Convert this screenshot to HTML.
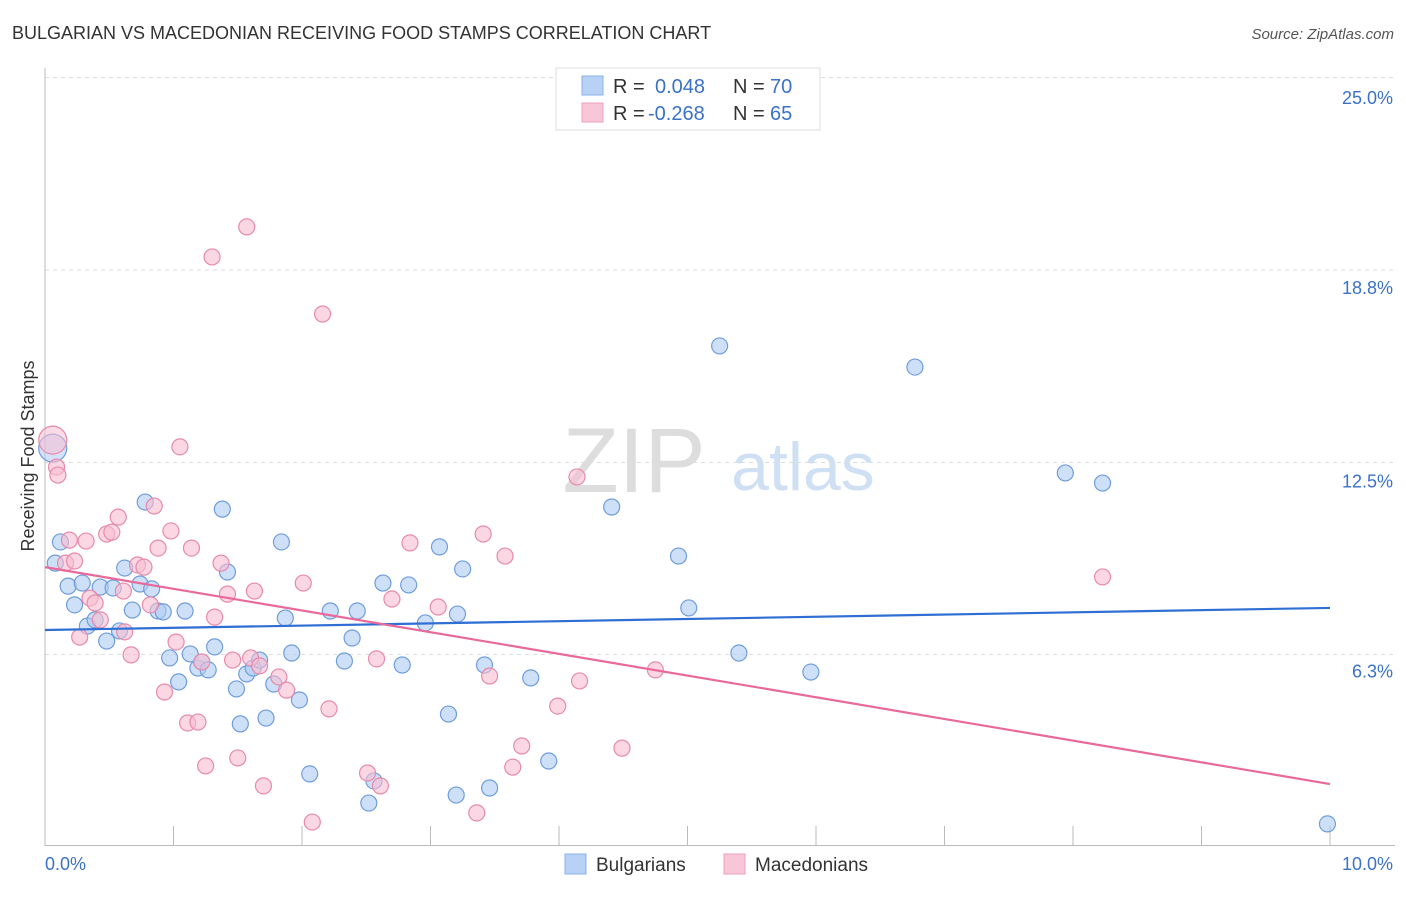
<!DOCTYPE html>
<html><head><meta charset="utf-8">
<style>
body{margin:0;background:#fff;font-family:"Liberation Sans",sans-serif;}
svg text{font-family:"Liberation Sans",sans-serif;}
</style></head>
<body>
<svg id="chart" width="1406" height="892" xmlns="http://www.w3.org/2000/svg">
<text x="12" y="39" font-size="18" fill="#333">BULGARIAN VS MACEDONIAN RECEIVING FOOD STAMPS CORRELATION CHART</text>
<text x="1394" y="39" font-size="15" fill="#555" text-anchor="end" font-style="italic">Source: ZipAtlas.com</text>
<text x="634" y="492" font-size="92" fill="#ddd" text-anchor="middle" font-family="Liberation Serif, serif">ZIP</text>
<text x="803" y="490" font-size="68" fill="#cfe0f4" text-anchor="middle">atlas</text>
<g id="grid"></g>
<g id="axes"></g>
<g id="points"></g>
<g id="trends"></g>
<text transform="translate(34,456) rotate(-90)" font-size="18" fill="#333" text-anchor="middle">Receiving Food Stamps</text>
<g>
<rect x="556" y="68" width="264" height="62" fill="#fff" stroke="#ddd"/>
<rect x="582" y="76" width="21" height="19" fill="#b8d2f5" stroke="#8ab2e8"/>
<rect x="582" y="103" width="21" height="19" fill="#f8c6d6" stroke="#eca0bb"/>
<text x="613" y="93" font-size="20" fill="#333">R = </text><text x="655" y="93" font-size="20" fill="#3a72c8">0.048</text>
<text x="733" y="93" font-size="20" fill="#333">N = </text><text x="770" y="93" font-size="20" fill="#3a72c8">70</text>
<text x="613" y="120" font-size="20" fill="#333">R = </text><text x="648" y="120" font-size="20" fill="#3a72c8">-0.268</text>
<text x="733" y="120" font-size="20" fill="#333">N = </text><text x="770" y="120" font-size="20" fill="#3a72c8">65</text>
</g>
<g>
<rect x="565" y="854" width="21" height="20" fill="#b8d2f5" stroke="#8ab2e8"/>
<text x="596" y="871" font-size="19" fill="#333">Bulgarians</text>
<rect x="724" y="854" width="21" height="20" fill="#f8c6d6" stroke="#eca0bb"/>
<text x="755" y="871" font-size="19" fill="#333">Macedonians</text>
</g>
</svg>
<script>
const blueX=[0.06,0.12,0.08,0.18,0.23,0.29,0.33,0.39,0.43,0.48,0.53,0.58,0.62,0.68,0.74,0.78,0.83,0.88,0.92,0.97,1.04,1.09,1.13,1.19,1.22,1.27,1.32,1.38,1.42,1.49,1.52,1.57,1.62,1.67,1.72,1.78,1.84,1.87,1.92,1.98,2.06,2.22,2.33,2.39,2.43,2.52,2.56,2.63,2.78,2.83,2.96,3.07,3.14,3.20,3.21,3.25,3.42,3.46,3.78,3.92,4.41,4.93,5.01,5.25,5.40,5.96,6.77,7.94,8.23,9.98];
const blueY=[12.97,9.91,9.22,8.47,7.86,8.57,7.17,7.37,8.44,6.68,8.41,7.01,9.06,7.69,8.54,11.21,8.38,7.66,7.63,6.13,5.35,7.66,6.26,5.80,6.00,5.74,6.49,10.98,8.93,5.12,3.98,5.61,5.80,6.06,4.17,5.28,9.91,7.43,6.29,4.76,2.35,7.66,6.03,6.78,7.66,1.40,2.12,8.57,5.90,8.51,7.27,9.75,4.30,1.66,7.56,9.03,5.90,1.89,5.48,2.77,11.05,9.45,7.76,16.30,6.29,5.67,15.61,12.16,11.83,0.72];
const pinkX=[0.06,0.09,0.10,0.16,0.19,0.23,0.27,0.32,0.35,0.39,0.43,0.48,0.52,0.57,0.62,0.61,0.67,0.72,0.77,0.82,0.85,0.88,0.93,0.98,1.02,1.05,1.11,1.14,1.19,1.22,1.25,1.30,1.32,1.37,1.42,1.46,1.50,1.57,1.60,1.63,1.67,1.70,1.82,1.88,2.01,2.08,2.16,2.21,2.51,2.58,2.61,2.70,2.84,3.06,3.36,3.41,3.46,3.58,3.64,3.71,3.99,4.14,4.16,4.49,4.75,8.23];
const pinkY=[13.23,12.35,12.09,9.22,9.97,9.29,6.81,9.94,8.08,7.92,7.37,10.17,10.23,10.72,6.98,8.31,6.23,9.16,9.09,7.86,11.08,9.71,5.02,10.27,6.65,13.01,4.01,9.71,4.04,6.00,2.61,19.20,7.46,9.22,8.21,6.06,2.87,20.18,6.13,8.31,5.87,1.96,5.51,5.08,8.57,0.78,17.34,4.47,2.38,6.10,1.96,8.05,9.88,7.79,1.08,10.17,5.54,9.45,2.57,3.26,4.56,12.03,5.38,3.19,5.74,8.77];
const blueTrend=[7.04,7.76];
const pinkTrend=[9.09,2.02];
const yTicks=[25.0,18.8,12.5,6.3];
const yTickLabels=["25.0%","18.8%","12.5%","6.3%"];
const xTickVals=[1,2,3,4,5,6,7,8,9,10];
const NS="http://www.w3.org/2000/svg";
const X0=45,X1=1330,Y0=846,PPY=30.68;
function sx(v){return X0+(X1-X0)*v/10;}
function sy(v){return Y0-v*PPY;}
function mk(tag,attrs,parent){const e=document.createElementNS(NS,tag);for(const k in attrs)e.setAttribute(k,attrs[k]);document.getElementById(parent).appendChild(e);return e;}
yTicks.forEach((t,i)=>{
 const l=mk('line',{x1:45,x2:1395,y1:sy(t===25?25.05:t===18.8?18.77:t===6.3?6.24:12.5),y2:sy(t===25?25.05:t===18.8?18.77:t===6.3?6.24:12.5),stroke:'#ddd','stroke-dasharray':'4,4'},'grid');
 
 
 const tx=mk('text',{x:1393,y:sy(t)+25,'font-size':18,fill:'#3a72c8','text-anchor':'end'},'grid');
 tx.textContent=yTickLabels[i];
 
 
});
let a=mk('line',{x1:45,x2:45,y1:68,y2:846,stroke:'#bbb'},'axes');


a=mk('line',{x1:45,x2:1395,y1:845.5,y2:845.5,stroke:'#bbb'},'axes');


xTickVals.forEach(v=>{
 const t=mk('line',{x1:sx(v),x2:sx(v),y1:826,y2:846,stroke:'#bbb'},'axes');
 
 
});
let lb=mk('text',{x:45,y:870,'font-size':18,fill:'#3a72c8'},'axes');lb.textContent='0.0%';


lb=mk('text',{x:1393,y:870,'font-size':18,fill:'#3a72c8','text-anchor':'end'},'axes');lb.textContent='10.0%';


function pts(xs,ys,fill,stroke,name){
 xs.forEach((x,i)=>{
  const big=(i===0);
  const c=mk('circle',{cx:sx(x),cy:sy(ys[i]),r:big?14:8,fill:fill,'fill-opacity':big?0.55:0.6,stroke:stroke,'stroke-width':1.2},'points');
  
  
 });
}
pts(blueX,blueY,'#aecbf3','#6f9ddc','bulgarian-point');
pts(pinkX,pinkY,'#f7bdd0','#e88aab','macedonian-point');
let tl=mk('line',{x1:sx(0),x2:sx(10),y1:sy(blueTrend[0]),y2:sy(blueTrend[1]),stroke:'#2f6fd4','stroke-width':2.2},'trends');


tl=mk('line',{x1:sx(0),x2:sx(10),y1:sy(pinkTrend[0]),y2:sy(pinkTrend[1]),stroke:'#e8699a','stroke-width':2.2},'trends');


</script>
</body></html>
